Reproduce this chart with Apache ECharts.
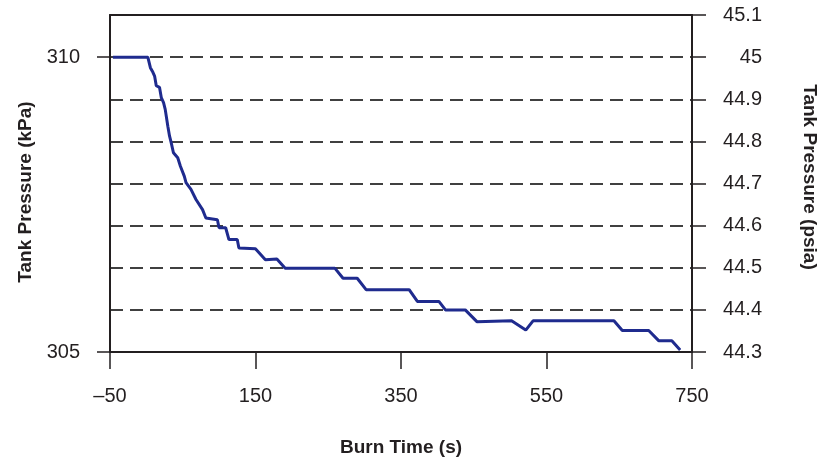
<!DOCTYPE html>
<html>
<head>
<meta charset="utf-8">
<script src="https://cdn.jsdelivr.net/npm/echarts@6/dist/echarts.min.js"></script>
<style>
html,body{margin:0;padding:0;background:#fff;}
#chart{width:827px;height:465px;}
</style>
</head>
<body>
<div id="chart"></div>
<script>
// Burn time (s)
var burnTime = [-46, 2, 5.5, 9, 11.3, 13.6, 18.1, 20.5, 23.6, 25.9, 29.5, 31.8, 34.1, 37.2, 43.1, 46.8, 52.2,
  54.5, 61.3, 68.2, 77.2, 81.8, 97.6, 99.9, 109, 113.5, 124.9, 127.2, 149.9, 163.6, 179.4, 190.8, 259, 270.3, 289.8, 302,
  361.2, 372.5, 402.1, 411.1, 438.3, 454.3, 502, 521.5, 531.5, 642.7, 654.2, 690.5, 704.1, 722.3, 733.7];
// Tank pressure (psia)
var pressurePsia = [45.0, 45.0, 44.975, 44.964, 44.955, 44.932, 44.928, 44.904, 44.892, 44.876, 44.836, 44.813, 44.797, 44.773, 44.761, 44.741, 44.717,
  44.702, 44.686, 44.662, 44.638, 44.618, 44.614, 44.595, 44.595, 44.567, 44.567, 44.547, 44.545, 44.519, 44.521, 44.499, 44.499, 44.475, 44.475, 44.448,
  44.448, 44.420, 44.420, 44.400, 44.400, 44.372, 44.374, 44.352, 44.374, 44.374, 44.351, 44.351, 44.327, 44.327, 44.305];
// Axis ticks
var kPaTicks = [305, 310];
var kPaRange = [305, 310.712];
var psiaRange = [44.3, 45.1];
var psiaStep = 0.1;
var timeRange = [-50, 750];
var timeStep = 200;

var FONT = '"Liberation Sans", Arial, Helvetica, sans-serif';
var TXT = '#231f20';
var AX = '#231f20';

var seriesData = burnTime.map(function (t, i) { return [t, pressurePsia[i]]; });

var chart = echarts.init(document.getElementById('chart'), null, {renderer: 'canvas'});
chart.setOption({
  animation: false,
  backgroundColor: '#ffffff',
  grid: {left: 110, right: 130, top: 15, bottom: 113, containLabel: false},
  xAxis: [{
    type: 'value',
    min: timeRange[0], max: timeRange[1], interval: timeStep,
    position: 'bottom',
    name: 'Burn Time (s)',
    nameLocation: 'middle',
    nameGap: 86,
    nameTextStyle: {fontFamily: FONT, fontSize: 19, fontWeight: 'bold', color: TXT},
    axisLine: {show: true, onZero: false, lineStyle: {color: AX, width: 2}},
    axisTick: {show: true, inside: false, length: 17, lineStyle: {color: AX, width: 1.5}},
    axisLabel: {
      fontFamily: FONT, fontSize: 20, color: TXT, margin: 34,
      formatter: function (v) { return String(v).replace('-', '\u2013'); }
    },
    splitLine: {show: false}
  }, {
    type: 'value',
    min: timeRange[0], max: timeRange[1],
    position: 'top',
    axisLine: {show: true, onZero: false, lineStyle: {color: AX, width: 2}},
    axisTick: {show: false},
    axisLabel: {show: false},
    splitLine: {show: false}
  }],
  yAxis: [{
    type: 'value',
    position: 'left',
    min: kPaRange[0], max: kPaRange[1],
    name: 'Tank Pressure (kPa)',
    nameLocation: 'middle',
    nameGap: 72,
    nameTextStyle: {fontFamily: FONT, fontSize: 19, fontWeight: 'bold', color: TXT, padding: [0, 17, 0, 0]},
    axisLine: {show: true, onZero: false, lineStyle: {color: AX, width: 2}},
    axisTick: {show: true, inside: false, length: 13, customValues: kPaTicks, lineStyle: {color: AX, width: 1.5}},
    axisLabel: {fontFamily: FONT, fontSize: 20, color: TXT, margin: 30, customValues: kPaTicks},
    splitLine: {show: false}
  }, {
    type: 'value',
    position: 'right',
    min: psiaRange[0], max: psiaRange[1], interval: psiaStep,
    name: 'Tank Pressure (psia)',
    nameLocation: 'middle',
    nameRotate: -90,
    nameGap: 108,
    nameTextStyle: {fontFamily: FONT, fontSize: 19, fontWeight: 'bold', color: TXT, padding: [0, 13, 0, 0]},
    axisLine: {show: true, onZero: false, lineStyle: {color: AX, width: 2}},
    axisTick: {show: true, inside: false, length: 14, lineStyle: {color: AX, width: 1.5}},
    axisLabel: {fontFamily: FONT, fontSize: 20, color: TXT, margin: 70, align: 'right',
      formatter: function (v) { return String(Math.round(v * 10) / 10); }},
    splitLine: {show: true, lineStyle: {color: '#404040', width: 2.2, type: [13, 7]}}
  }],
  series: [{
    type: 'line',
    xAxisIndex: 0,
    yAxisIndex: 1,
    data: seriesData,
    showSymbol: false,
    symbol: 'none',
    lineStyle: {color: '#1f2b8e', width: 3},
    z: 3
  }]
});
</script>
</body>
</html>
